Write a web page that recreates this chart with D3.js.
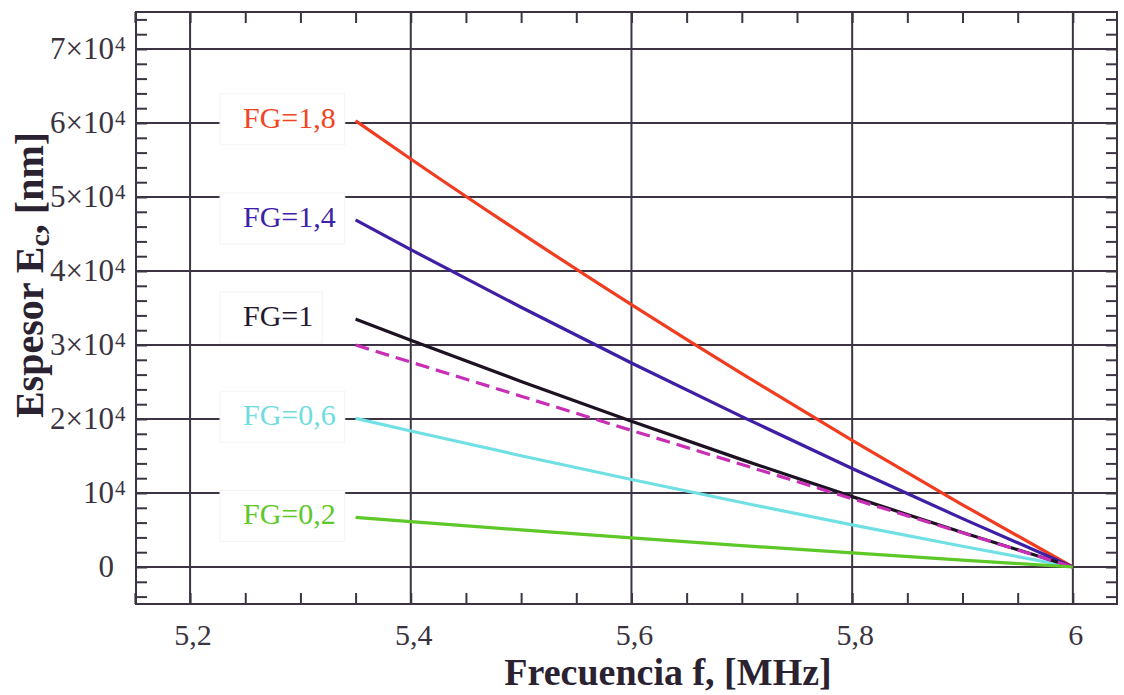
<!DOCTYPE html>
<html>
<head>
<meta charset="utf-8">
<script src="https://cdn.jsdelivr.net/npm/d3@7"></script>
<style>
  body { margin: 0; background: #fff; }
  svg { display: block; font-family: "Liberation Serif", "Times New Roman", serif; }
</style>
</head>
<body>
<svg id="chart" width="1124" height="695"></svg>
<script>
// values
const freq = [5.35, 5.4, 5.5, 5.6, 5.7, 5.8, 5.9, 6.0];
const fg18 = [60300, 55140, 45120, 35450, 26120, 17110, 8410, 0];
const fg14 = [46900, 42890, 35100, 27570, 20320, 13310, 6540, 0];
const fg10 = [33500, 30640, 25070, 19700, 14510, 9510, 4670, 0];
const fgDash = [30000, 27690, 23080, 18460, 13850, 9230, 4620, 0];
const fg06 = [20100, 18380, 15040, 11820, 8710, 5700, 2800, 0];
const fg02 = [6700, 6130, 5010, 3940, 2900, 1900, 930, 0];

const labels = ["FG=1,8", "FG=1,4", "FG=1", "FG=0,6", "FG=0,2"];
const xTicks = [5.2, 5.4, 5.6, 5.8, 6.0];
const xTickLabels = ["5,2", "5,4", "5,6", "5,8", "6"];
const yTicks = [0, 10000, 20000, 30000, 40000, 50000, 60000, 70000];
const yTickLabels = ["0", "10", "2×10", "3×10", "4×10", "5×10", "6×10", "7×10"];

const svg = d3.select("#chart");
const pLeft = 136, pRight = 1117, pTop = 12, pBottom = 604;
const axisColor = "#3d3443";

const x = d3.scaleLinear().domain([5.151, 6.04]).range([pLeft, pRight]);
const y = d3.scaleLinear().domain([-5000, 75000]).range([pBottom, pTop]);

// grid
svg.append("g").selectAll("line").data(xTicks).join("line")
  .attr("x1", d => x(d)).attr("x2", d => x(d))
  .attr("y1", pTop).attr("y2", pBottom)
  .attr("stroke", axisColor).attr("stroke-width", 2);
svg.append("g").selectAll("line").data(yTicks).join("line")
  .attr("x1", pLeft).attr("x2", pRight)
  .attr("y1", d => y(d)).attr("y2", d => y(d))
  .attr("stroke", axisColor).attr("stroke-width", 2);

// minor ticks, inside on all four sides
const xMinor = d3.range(5.15, 6.04, 0.05);
const yMinor = d3.range(-4000, 75000, 2000);
function minor(axis, pos) {
  const g = svg.append("g").attr("transform", pos).call(axis);
  g.select(".domain").remove();
  g.selectAll("line").attr("stroke", axisColor).attr("stroke-width", 2);
}
minor(d3.axisBottom(x).tickValues(xMinor).tickSize(-11).tickFormat(""), `translate(0,${pBottom})`);
minor(d3.axisTop(x).tickValues(xMinor).tickSize(-11).tickFormat(""), `translate(0,${pTop})`);
minor(d3.axisLeft(y).tickValues(yMinor).tickSize(-11).tickFormat(""), `translate(${pLeft},0)`);
minor(d3.axisRight(y).tickValues(yMinor).tickSize(-11).tickFormat(""), `translate(${pRight},0)`);

// frame
svg.append("rect")
  .attr("x", pLeft).attr("y", pTop)
  .attr("width", pRight - pLeft).attr("height", pBottom - pTop)
  .attr("fill", "none").attr("stroke", axisColor).attr("stroke-width", 2);

// tick labels
svg.append("g").selectAll("text").data(xTicks).join("text")
  .attr("x", d => x(d) + 3).attr("y", 645)
  .attr("text-anchor", "middle").attr("font-size", 30).attr("fill", "#3a3340")
  .text((d, i) => xTickLabels[i]);

const yl = svg.append("g").selectAll("text").data(yTicks).join("text")
  .attr("x", 114).attr("y", d => y(d) + 10)
  .attr("text-anchor", "end").attr("font-size", 31).attr("fill", "#3a3340")
  .text((d, i) => yTickLabels[i]);
yl.filter(d => d > 0).each(function() {
  const t = d3.select(this);
  const w = this.getComputedTextLength();
  t.attr("text-anchor", "start").attr("x", 114 - w);
  t.append("tspan").attr("font-size", 21).attr("dy", -8).attr("dx", 1).text("4");
});

// axis titles
svg.append("text")
  .attr("x", 668).attr("y", 685)
  .attr("text-anchor", "middle").attr("font-size", 38).attr("font-weight", "bold")
  .attr("fill", "#2a2230")
  .text("Frecuencia f, [MHz]");

const yt = svg.append("text")
  .attr("transform", "translate(43,275) rotate(-90)")
  .attr("text-anchor", "middle").attr("font-size", 40).attr("font-weight", "bold")
  .attr("fill", "#2a2230");
yt.append("tspan").text("Espesor E");
yt.append("tspan").attr("font-size", 28).attr("dy", 6).text("c");
yt.append("tspan").attr("dy", -6).text(", [nm]");

// curves
const series = [
  { v: fg18, color: "#f23c1f", label: 0 },
  { v: fg14, color: "#3d1ea5", label: 1 },
  { v: fg06, color: "#70e0e4", label: 3 },
  { v: fg10, color: "#1c1222", label: 2 },
  { v: fgDash, color: "#c92fb6", dash: "14,7" },
  { v: fg02, color: "#5dc828", label: 4 }
];
const line = d3.line()
  .x((d, i) => x(freq[i]))
  .y(d => y(d))
  .curve(d3.curveMonotoneX);

svg.append("g").selectAll("path").data(series).join("path")
  .attr("d", d => line(d.v))
  .attr("fill", "none")
  .attr("stroke", d => d.color)
  .attr("stroke-width", 3.2)
  .attr("stroke-dasharray", d => d.dash || null);

// labels in white boxes
const labelColors = ["#f2441f", "#3d22a8", "#241830", "#6fdde0", "#5dc828"];
series.filter(s => s.label !== undefined).forEach(s => {
  const base = y(s.v[0]) + 7;
  const g = svg.append("g");
  const box = g.append("rect");
  const t = g.append("text")
    .attr("x", 243).attr("y", base)
    .attr("font-size", 30).attr("fill", labelColors[s.label])
    .text(labels[s.label]);
  const w = t.node().getComputedTextLength();
  box.attr("x", 220).attr("y", base - 34)
    .attr("width", w + 23 + 9).attr("height", 51)
    .attr("fill", "#fff").attr("stroke", "#f3f3f3");
});
</script>
</body>
</html>
